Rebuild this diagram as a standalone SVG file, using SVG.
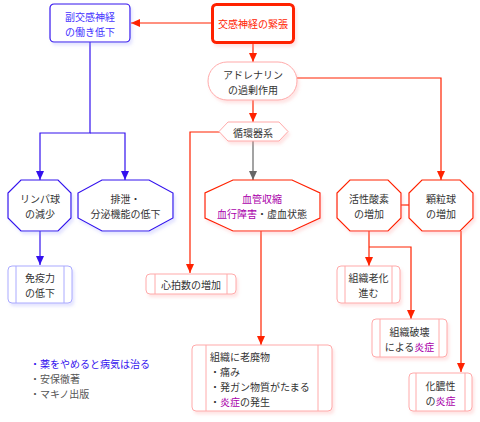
<svg xmlns="http://www.w3.org/2000/svg" width="480" height="422" viewBox="0 0 480 422">
<style>
text{font-family:"Noto Sans CJK JP","Noto Sans",sans-serif;font-size:10px;fill:#333;text-anchor:middle;dominant-baseline:central}
.blue{stroke:#3311ee;fill:#fff;stroke-width:1.2}
.red{stroke:#ff2200;fill:#fff;stroke-width:1.2}
.lred{stroke:#ffaaaa;fill:#fff;stroke-width:1}
.lblue{stroke:#aaaaff;fill:#fff;stroke-width:1}
.sb{filter:url(#shb)}
.sr{filter:url(#shr)}
.c{fill:none;stroke-width:1.2}
.cr{stroke:#ff2200}
.cb{stroke:#3311ee}
.cg{stroke:#666}
.pur{fill:#aa00aa}
</style>
<defs>
<filter id="shb" x="-20%" y="-20%" width="140%" height="150%"><feDropShadow dx="2" dy="3" stdDeviation="1.5" flood-color="#9999ff" flood-opacity="0.25"/></filter>
<filter id="shr" x="-20%" y="-20%" width="140%" height="150%"><feDropShadow dx="2" dy="3" stdDeviation="1.5" flood-color="#ff9999" flood-opacity="0.25"/></filter>
<marker id="ar" markerWidth="9" markerHeight="8" refX="9" refY="4" orient="auto" markerUnits="userSpaceOnUse"><path d="M0,0 L9,4 L0,8 z" fill="#ff2200"/></marker>
<marker id="ab" markerWidth="9" markerHeight="8" refX="9" refY="4" orient="auto" markerUnits="userSpaceOnUse"><path d="M0,0 L9,4 L0,8 z" fill="#3311ee"/></marker>
<marker id="ag" markerWidth="9" markerHeight="8" refX="9" refY="4" orient="auto" markerUnits="userSpaceOnUse"><path d="M0,0 L9,4 L0,8 z" fill="#666"/></marker>
</defs>

<g id="connectors">
<path class="c cr" d="M212,23 H131" marker-end="url(#ar)"/>
<path class="c cr" d="M253,43 V62" marker-end="url(#ar)"/>
<path class="c cr" d="M297,78 H441 V180" marker-end="url(#ar)"/>
<path class="c cr" d="M253,100 V122" marker-end="url(#ar)"/>
<path class="c cr" d="M220,132 H190 V273" marker-end="url(#ar)"/>
<path class="c cg" d="M253,141 V180" marker-end="url(#ag)"/>
<path class="c cb" d="M90,42 V133 H40 V180" marker-end="url(#ab)"/>
<path class="c cb" d="M90,133 H125 V180" marker-end="url(#ab)"/>
<path class="c cb" d="M40,231 V265" marker-end="url(#ab)"/>
<path class="c cr" d="M261,231 V345" marker-end="url(#ar)"/>
<path class="c cr" d="M401,205 H409"/>
<path class="c cr" d="M369,231 V266" marker-end="url(#ar)"/>
<path class="c cr" d="M369,247 H411 V319" marker-end="url(#ar)"/>
<path class="c cr" d="M461,231 V372" marker-end="url(#ar)"/>
</g>

<g id="n-fukukoukan">
<rect class="blue sb" x="50" y="4" width="80" height="38" rx="4"/>
<text x="90" y="16" style="fill:#4433ff">副交感神経</text>
<text x="90" y="31" style="fill:#4433ff">の働き低下</text>
</g>

<g id="n-koukan">
<rect class="red sr" x="212.5" y="4.5" width="81" height="38" rx="4" style="stroke-width:3"/>
<text x="253" y="23" style="fill:#ff2200">交感神経の緊張</text>
</g>

<g id="n-adrenalin">
<rect class="lred sr" x="208" y="62" width="89" height="38" rx="19"/>
<text x="253" y="74">アドレナリン</text>
<text x="253" y="89">の過剰作用</text>
</g>

<g id="n-junkan">
<polygon class="lred sr" points="228,122 279,122 288,131.5 279,141 228,141 219,131.5"/>
<text x="253" y="132">循環器系</text>
</g>

<g id="n-lymph">
<polygon class="blue sb" points="21,180 58,180 71,193 71,218 58,231 21,231 8,218 8,193"/>
<text x="40" y="198">リンパ球</text>
<text x="40" y="213">の減少</text>
</g>

<g id="n-haisetsu">
<polygon class="blue sb" points="102,180 149,180 173,193 173,218 149,231 102,231 78,218 78,193"/>
<text x="125.5" y="198">排泄・</text>
<text x="125.5" y="213">分泌機能の低下</text>
</g>

<g id="n-kekkan">
<polygon class="red sr" points="233,180 292,180 320,193 320,218 292,231 233,231 205,218 205,193"/>
<text x="262" y="198" class="pur">血管収縮</text>
<text x="262" y="213"><tspan class="pur">血行障害</tspan>・虚血状態</text>
</g>

<g id="n-kassei">
<polygon class="red sr" points="350,180 388,180 401,193 401,218 388,231 350,231 337,218 337,193"/>
<text x="369" y="198">活性酸素</text>
<text x="369" y="213">の増加</text>
</g>

<g id="n-kanryu">
<polygon class="red sr" points="422,180 460,180 473,193 473,218 460,231 422,231 409,218 409,193"/>
<text x="441" y="198">顆粒球</text>
<text x="441" y="213">の増加</text>
</g>

<g id="n-meneki">
<rect class="lblue sb" x="8" y="266" width="64" height="37" rx="4"/>
<path d="M16,266 V303 M64,266 V303" stroke="#aaaaff" stroke-width="1"/>
<text x="40" y="277">免疫力</text>
<text x="40" y="292">の低下</text>
</g>

<g id="n-shinpaku">
<rect class="lred sr" x="146" y="274" width="90" height="20" rx="4"/>
<path d="M155,274 V294 M227,274 V294" stroke="#ffaaaa" stroke-width="1"/>
<text x="191" y="284">心拍数の増加</text>
</g>

<g id="n-rouka">
<rect class="lred sr" x="337" y="266" width="63" height="37" rx="4"/>
<path d="M345,266 V303 M392,266 V303" stroke="#ffaaaa" stroke-width="1"/>
<text x="368.5" y="277">組織老化</text>
<text x="368.5" y="292">進む</text>
</g>

<g id="n-hakai">
<rect class="lred sr" x="372" y="319" width="75" height="38" rx="4"/>
<path d="M380,319 V357 M439,319 V357" stroke="#ffaaaa" stroke-width="1"/>
<text x="409.5" y="331">組織破壊</text>
<text x="409.5" y="346">による<tspan class="pur">炎症</tspan></text>
</g>

<g id="n-kanou">
<rect class="lred sr" x="409" y="373" width="63" height="38" rx="4"/>
<path d="M416,373 V411 M465,373 V411" stroke="#ffaaaa" stroke-width="1"/>
<text x="440.5" y="385">化膿性</text>
<text x="440.5" y="400">の<tspan class="pur">炎症</tspan></text>
</g>

<g id="n-roubai">
<rect class="lred sr" x="192" y="345" width="140" height="66" rx="4"/>
<path d="M206,345 V411 M318,345 V411" stroke="#ffaaaa" stroke-width="1"/>
<text x="210" y="356" style="text-anchor:start">組織に老廃物</text>
<text x="210" y="371" style="text-anchor:start">・痛み</text>
<text x="210" y="386" style="text-anchor:start">・発ガン物質がたまる</text>
<text x="210" y="401" style="text-anchor:start">・<tspan class="pur">炎症</tspan>の発生</text>
</g>

<g id="legend">
<text x="30" y="363" style="text-anchor:start;fill:#3311ee">・薬をやめると病気は治る</text>
<text x="30" y="378" style="text-anchor:start;fill:#555">・安保徹著</text>
<text x="30" y="393" style="text-anchor:start;fill:#555">・マキノ出版</text>
</g>
</svg>
